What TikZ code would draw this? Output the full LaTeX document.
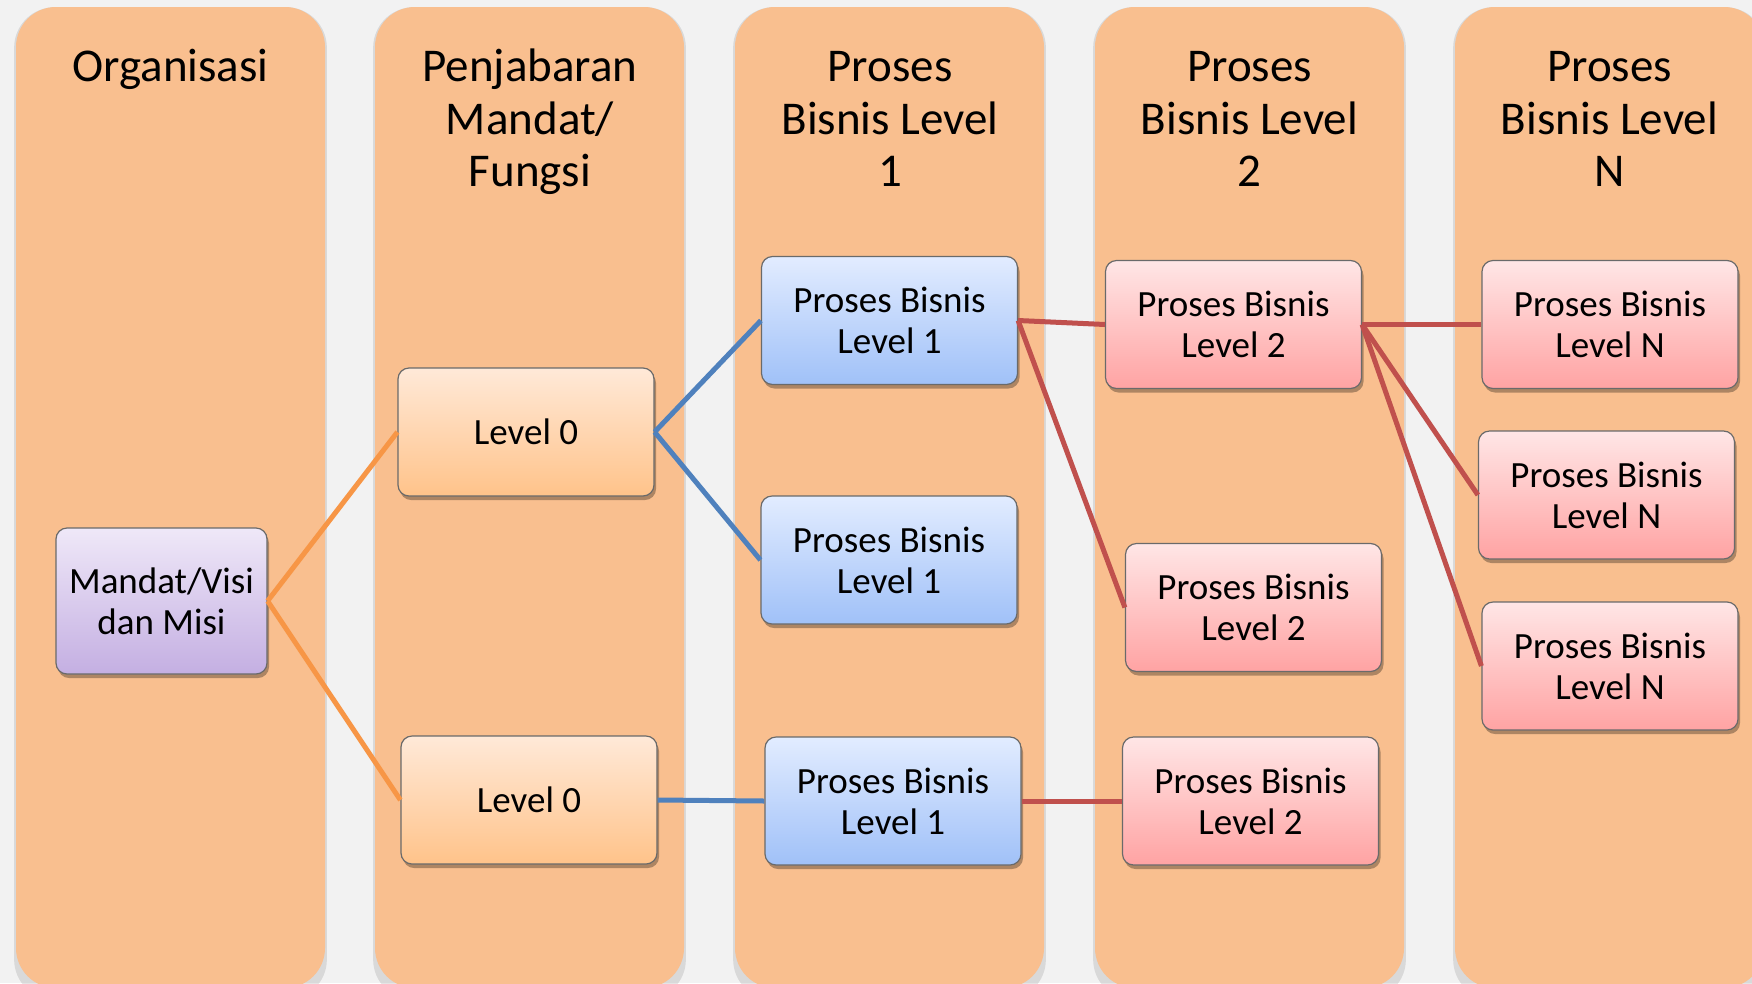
\documentclass[tikz,border=0pt]{standalone}
\usepackage{fontspec}
\setmainfont{Carlito}
\usetikzlibrary{shadows}
\definecolor{bgc}{HTML}{F2F2F2}
\definecolor{colfill}{HTML}{F9BF8F}
\definecolor{boxline}{HTML}{6A6A6A}
\definecolor{purtop}{HTML}{EFE8F8}
\definecolor{purbot}{HTML}{C4AFE2}
\definecolor{orgtop}{HTML}{FFE9D8}
\definecolor{orgbot}{HTML}{FFC38A}
\definecolor{blutop}{HTML}{E2ECFF}
\definecolor{blubot}{HTML}{A0C1F8}
\definecolor{pnktop}{HTML}{FFE6E6}
\definecolor{pnkbot}{HTML}{FFA3A3}
\definecolor{oline}{HTML}{F79646}
\definecolor{bline}{HTML}{4F81BD}
\definecolor{rline}{HTML}{C0504D}
\begin{document}
\begin{tikzpicture}[x=1pt,y=-1pt,
  colbox/.style={fill=colfill, rounded corners=40pt,
    drop shadow={shadow xshift=0pt, shadow yshift=-6pt, shadow scale=1.012, opacity=0.1, fill=black}},
  title/.style={font=\fontsize{47}{52.5}\selectfont, align=center, anchor=north, inner sep=0pt},
  box/.style={draw=boxline, line width=1.2pt, rounded corners=11pt,
    minimum width=256pt, minimum height=128pt, inner sep=0pt, align=center,
    font=\fontsize{37}{41}\selectfont,
    drop shadow={shadow xshift=2pt, shadow yshift=-4pt, opacity=0.3, fill=black}},
  purbox/.style={box, top color=purtop, bottom color=purbot},
  orgbox/.style={box, top color=orgtop, bottom color=orgbot},
  blubox/.style={box, top color=blutop, bottom color=blubot},
  pnkbox/.style={box, top color=pnktop, bottom color=pnkbot},
  conn/.style={line width=5pt},
]
\clip (0,0) rectangle (1752,983);
\fill[bgc] (0,0) rectangle (1752,983);
\foreach \x in {16,375,735,1095,1455}
  \fill[colbox] (\x,7) rectangle ++(309,981);

% column titles
\node[title] (t1) at (170.5,45) {\strut Organisasi};
\node[title] (t2) at (530,45) {\strut Penjabaran\\Mandat/\\Fungsi};
\node[title] (t3) at (890,45) {\strut Proses\\Bisnis Level\\1};
\node[title] (t4) at (1249.5,45) {\strut Proses\\Bisnis Level\\2};
\node[title] (t5) at (1609.5,45) {\strut Proses\\Bisnis Level\\N};

% boxes
\node[purbox, minimum width=211pt, minimum height=146pt] (mv) at (161.5,601) {Mandat/Visi\\dan Misi};
\node[orgbox] (l0a) at (526,432) {Level 0};
\node[orgbox] (l0b) at (529,800) {Level 0};
\node[blubox] (p1a) at (889.5,320.5) {Proses Bisnis\\Level 1};
\node[blubox] (p1b) at (889,560) {Proses Bisnis\\Level 1};
\node[blubox] (p1c) at (893,801) {Proses Bisnis\\Level 1};
\node[pnkbox] (p2a) at (1233.5,324.5) {Proses Bisnis\\Level 2};
\node[pnkbox] (p2b) at (1253.5,607.5) {Proses Bisnis\\Level 2};
\node[pnkbox] (p2c) at (1250.5,801) {Proses Bisnis\\Level 2};
\node[pnkbox] (pna) at (1610,324.5) {Proses Bisnis\\Level N};
\node[pnkbox] (pnb) at (1606.5,495) {Proses Bisnis\\Level N};
\node[pnkbox] (pnc) at (1610,666) {Proses Bisnis\\Level N};

% connectors
\draw[conn, oline] (mv.east) -- (l0a.west);
\draw[conn, oline] (mv.east) -- (l0b.west);
\draw[conn, bline] (l0a.east) -- (p1a.west);
\draw[conn, bline] (l0a.east) -- (p1b.west);
\draw[conn, bline] (l0b.east) -- (p1c.west);
\draw[conn, rline] (p1a.east) -- (p2a.west);
\draw[conn, rline] (p1a.east) -- (p2b.west);
\draw[conn, rline] (p1c.east) -- (p2c.west);
\draw[conn, rline] (p2a.east) -- (pna.west);
\draw[conn, rline] (p2a.east) -- (pnb.west);
\draw[conn, rline] (p2a.east) -- (pnc.west);
\end{tikzpicture}
\end{document}
